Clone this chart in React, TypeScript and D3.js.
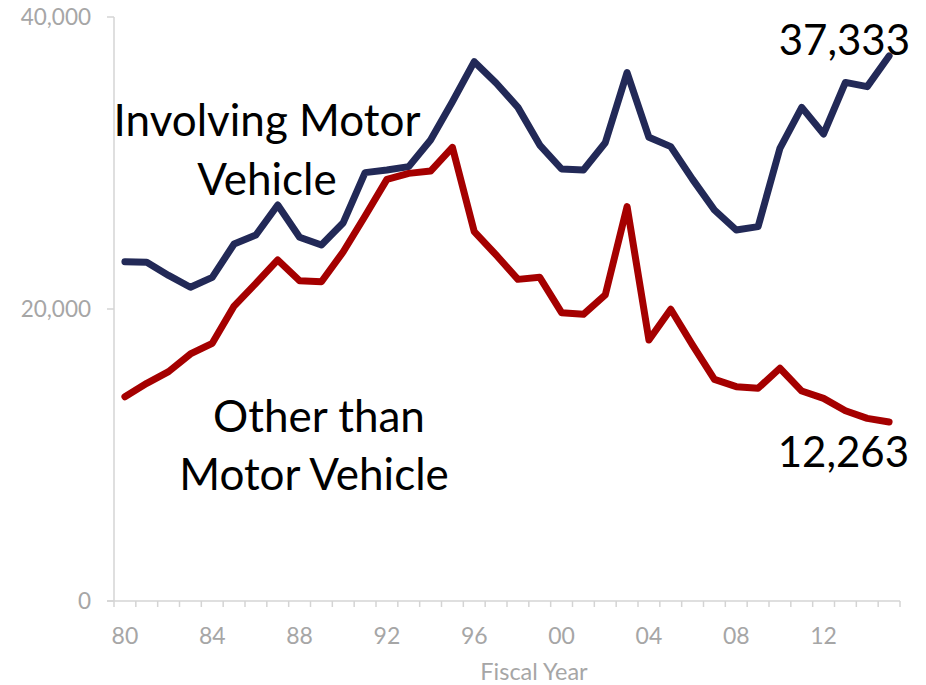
import * as d3 from "d3";

const years = d3.range(1980, 2016);
const tickYears = [1980, 1984, 1988, 1992, 1996, 2000, 2004, 2008, 2012];
const yTicks = [0, 20000, 40000];

const motorVehicle = [
  23240, 23200, 22300, 21490, 22170, 24450, 25070, 27120, 24910, 24380,
  25910, 29340, 29520, 29750, 31575, 34200, 36940, 35480, 33810, 31230,
  29590, 29520, 31390, 36190, 31760, 31120, 28880, 26780, 25410, 25640,
  31000, 33810, 31990, 35520, 35230, 37333,
];
const otherThanMotor = [
  13990, 14910, 15710, 16920, 17650, 20200, 21760, 23360, 21940, 21870,
  23920, 26370, 28880, 29290, 29450, 31070, 25300, 23700, 22030, 22170,
  19750, 19640, 20960, 27010, 17880, 19980, 17530, 15180, 14680, 14570,
  15940, 14380, 13880, 13030, 12510, 12263,
];

const W = 926;
const H = 685;
const font = "Lato, 'Open Sans', sans-serif";

function App() {
  const x = d3
    .scaleBand<number>()
    .domain(years)
    .range([114, 900]);
  const y = d3.scaleLinear().domain([0, 40000]).range([601, 17]);
  const cx = (yr: number) => (x(yr) as number) + x.bandwidth() / 2;

  const line = d3
    .line<number>()
    .x((v, i) => cx(years[i]))
    .y((v) => y(v));

  const fmt = d3.format(",");
  const boundaries = years.map((yr) => x(yr) as number).concat([900]);

  return (
    <svg
      width={W}
      height={H}
      style={{ position: "absolute", left: 0, top: 0, background: "#fff" }}
      fontFamily={font}
    >
      {/* y axis */}
      <line x1={114} x2={114} y1={y(40000)} y2={y(0)} stroke="#d4d4d4" strokeWidth={1.5} />
      {yTicks.map((t) => (
        <g key={t}>
          <line x1={107} x2={114} y1={y(t)} y2={y(t)} stroke="#d4d4d4" strokeWidth={1.5} />
          <text x={91} y={y(t)} dy="0.35em" textAnchor="end" fontSize={22.5} fill="#a6a6a6">
            {fmt(t)}
          </text>
        </g>
      ))}

      {/* x axis */}
      <line x1={107} x2={900} y1={601} y2={601} stroke="#d4d4d4" strokeWidth={1.5} />
      {boundaries.map((bx, i) => (
        <line key={i} x1={bx} x2={bx} y1={601} y2={607} stroke="#d4d4d4" strokeWidth={1.5} />
      ))}
      {tickYears.map((yr) => (
        <text key={yr} x={cx(yr)} y={644} textAnchor="middle" fontSize={23} fill="#a6a6a6">
          {String(yr).slice(2)}
        </text>
      ))}
      <text x={534} y={680} textAnchor="middle" fontSize={23.5} fill="#a6a6a6">
        Fiscal Year
      </text>

      {/* series */}
      <path d={line(motorVehicle) || ""} fill="none" stroke="#222957" strokeWidth={7} strokeLinejoin="round" strokeLinecap="round" />
      <path d={line(otherThanMotor) || ""} fill="none" stroke="#a50000" strokeWidth={7} strokeLinejoin="round" strokeLinecap="round" />

      {/* labels */}
      <text x={267} y={136} textAnchor="middle" fontSize={44} fill="#000">
        Involving Motor
      </text>
      <text x={267} y={195} textAnchor="middle" fontSize={44} fill="#000">
        Vehicle
      </text>
      <text x={319} y={432} textAnchor="middle" fontSize={44} fill="#000">
        Other than
      </text>
      <text x={314} y={490} textAnchor="middle" fontSize={44} fill="#000">
        Motor Vehicle
      </text>
      <text x={910} y={55} textAnchor="end" fontSize={42} fill="#000">
        {fmt(motorVehicle[motorVehicle.length - 1])}
      </text>
      <text x={909} y={467} textAnchor="end" fontSize={42} fill="#000">
        {fmt(otherThanMotor[otherThanMotor.length - 1])}
      </text>
    </svg>
  );
}

export default App;
